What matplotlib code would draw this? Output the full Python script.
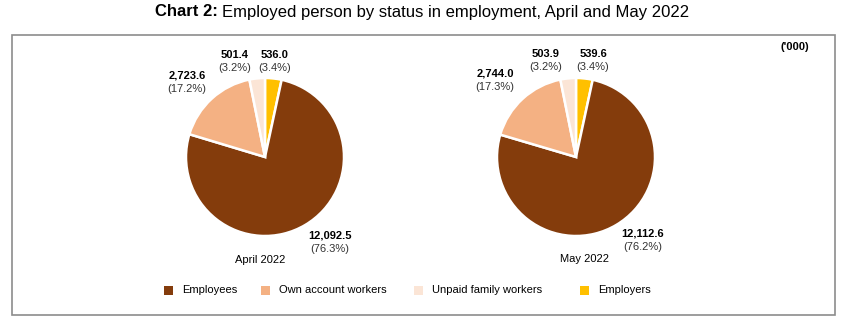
"""
Chart 2: Employed person by status in employment, April and May 2022
Two pie charts side by side with a shared legend
"""

import matplotlib.pyplot as plt
from matplotlib.patches import Rectangle

plt.rcParams['font.family'] = ['Liberation Sans', 'DejaVu Sans']

# Data ('000)
categories = ['Employees', 'Own account workers', 'Unpaid family workers', 'Employers']
colors = ['#843C0C', '#F4B183', '#FBE5D6', '#FFC000']
april_values = [12092.5, 2723.6, 501.4, 536.0]
april_pct = [76.3, 17.2, 3.2, 3.4]
may_values = [12112.6, 2744.0, 503.9, 539.6]
may_pct = [76.2, 17.3, 3.2, 3.4]
period_labels = ['April 2022', 'May 2022']

W, H = 850, 336
fig = plt.figure(figsize=(W / 100, H / 100), dpi=100)


def fx(px):
    return px / W


def fy(py):
    return 1 - py / H


# Frame around the chart area
fig.patches.append(Rectangle((fx(12), fy(315)), 823 / W, 280 / H,
                             transform=fig.transFigure, fill=False,
                             edgecolor='#8c8c8c', linewidth=1.2))

# Title: bold prefix + regular text
fig.text(fx(155), fy(12), 'Chart 2:', ha='left', va='center', fontsize=12, fontweight='bold')
fig.text(fx(222), fy(12), 'Employed person by status in employment, April and May 2022',
         ha='left', va='center', fontsize=12)
fig.text(fx(795), fy(47), "('000)", ha='center', va='center', fontsize=8, fontweight='bold')

# pie layout in pixels: center and radius; label offsets from center
centers = [(265, 157), (576, 157)]
radius = 79
label_offsets = [
    [(65, 85), (-78, -75), (-30, -96), (10, -96)],
    [(67, 83), (-81, -77), (-30, -97), (17, -97)],
]
period_pos = [(260, 260), (585, 259)]

for k, (values, pct) in enumerate([(april_values, april_pct), (may_values, may_pct)]):
    cx, cy = centers[k]
    ax = fig.add_axes([fx(cx - radius), fy(cy + radius), 2 * radius / W, 2 * radius / H])
    # clockwise from 12 o'clock: Employers, Employees, Own account, Unpaid
    order = [3, 0, 1, 2]
    ax.pie([values[i] for i in order], colors=[colors[i] for i in order],
           startangle=90, counterclock=False,
           wedgeprops=dict(edgecolor='white', linewidth=1.8))
    ax.set_xlim(-1, 1)
    ax.set_ylim(-1, 1)
    ax.set_aspect('equal')
    ax.axis('off')
    for i, (dx, dy) in enumerate(label_offsets[k]):
        fig.text(fx(cx + dx), fy(cy + dy - 6), f'{values[i]:,.1f}', ha='center', va='center',
                 fontsize=8, fontweight='bold')
        fig.text(fx(cx + dx), fy(cy + dy + 7), f'({pct[i]:.1f}%)', ha='center', va='center',
                 fontsize=8, color='#333333')
    px, py = period_pos[k]
    fig.text(fx(px), fy(py), period_labels[k], ha='center', va='center', fontsize=8)

# Legend (placed by hand to match spacing of the original)
legend_x = [168, 265, 418, 584]
for name, c, x in zip(categories, colors, legend_x):
    fig.patches.append(Rectangle((fx(x - 4.5), fy(290 + 4.5)), 9 / W, 9 / H,
                                 transform=fig.transFigure, facecolor=c, edgecolor='none'))
    fig.text(fx(x + 14), fy(290), name, ha='left', va='center', fontsize=8)

plt.savefig('out.png', dpi=100)
